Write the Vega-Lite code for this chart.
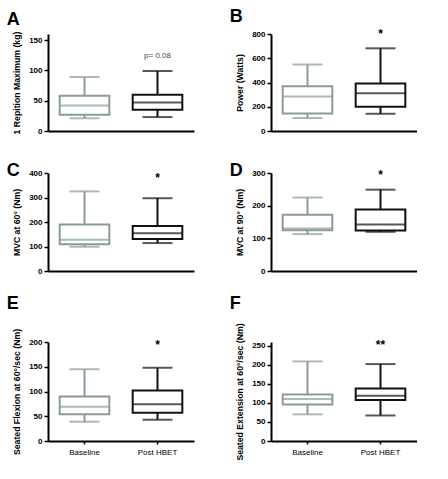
{
  "$schema": "https://vega.github.io/schema/vega-lite/v6.json",
  "padding": {"left": 6, "top": 8, "right": 0, "bottom": 0},
  "background": "white",
  "datasets": {
    "boxes": [
      {"panel": "A", "group": "Baseline", "low": 21, "q1": 27, "median": 42, "q3": 58, "high": 89, "note": null, "noteY": null},
      {"panel": "A", "group": "Post HBET", "low": 23, "q1": 35, "median": 47, "q3": 60, "high": 99, "note": "p= 0.08", "noteY": 124},
      {"panel": "B", "group": "Baseline", "low": 107, "q1": 145, "median": 285, "q3": 370, "high": 548, "note": null, "noteY": null},
      {"panel": "B", "group": "Post HBET", "low": 142, "q1": 200, "median": 312, "q3": 392, "high": 682, "note": "*", "noteY": 765},
      {"panel": "C", "group": "Baseline", "low": 99, "q1": 109, "median": 128, "q3": 190, "high": 325, "note": null, "noteY": null},
      {"panel": "C", "group": "Post HBET", "low": 114, "q1": 131, "median": 154, "q3": 184, "high": 297, "note": "*", "noteY": 362},
      {"panel": "D", "group": "Baseline", "low": 113, "q1": 125, "median": 130, "q3": 172, "high": 225, "note": null, "noteY": null},
      {"panel": "D", "group": "Post HBET", "low": 120, "q1": 124, "median": 142, "q3": 188, "high": 249, "note": "*", "noteY": 281},
      {"panel": "E", "group": "Baseline", "low": 39, "q1": 54, "median": 69, "q3": 90, "high": 145, "note": null, "noteY": null},
      {"panel": "E", "group": "Post HBET", "low": 43, "q1": 57, "median": 74, "q3": 102, "high": 148, "note": "*", "noteY": 186},
      {"panel": "F", "group": "Baseline", "low": 70, "q1": 96, "median": 110, "q3": 122, "high": 209, "note": null, "noteY": null},
      {"panel": "F", "group": "Post HBET", "low": 67, "q1": 108, "median": 119, "q3": 138, "high": 202, "note": "**", "noteY": 241}
    ]
  },
  "config": {
    "font": "Liberation Sans",
    "view": {"stroke": null},
    "title": {"anchor": "start", "frame": "bounds", "fontSize": 18, "fontWeight": "bold", "font": "Liberation Sans", "color": "black", "dx": -6},
    "axis": {"grid": false, "domainColor": "black", "domainWidth": 2, "tickColor": "black", "tickWidth": 1.5, "labelColor": "black", "titleColor": "black", "labelFont": "Liberation Sans", "titleFont": "Liberation Sans"},
    "axisY": {"tickSize": 4, "labelFontSize": 8, "labelFontWeight": "bold", "labelPadding": 2, "titleFontSize": 8.7, "titleFontWeight": "bold", "titlePadding": 7, "labelOverlap": false}
  },
  "spacing": 19,
  "vconcat": [
    {
      "spacing": 27,
      "vconcat": [
        {
          "hconcat": [
            {
              "width": 146, "height": 97,
              "title": {"text": "A", "offset": 2},
              "data": {"name": "boxes"},
              "transform": [{"filter": "datum.panel == 'A'"}],
              "encoding": {"x": {"field": "group", "type": "nominal", "sort": ["Baseline", "Post HBET"], "scale": {"paddingInner": 0, "paddingOuter": 0}, "axis": {"title": null, "labels": false, "ticks": false}}},
              "layer": [
                {"mark": {"type": "rule", "strokeWidth": 2}, "encoding": {"y": {"field": "low", "type": "quantitative", "scale": {"domain": [0, 150]}, "axis": {"values": [0, 50, 100, 150], "title": "1 Repition Maximum (kg)"}}, "y2": {"field": "high"}, "stroke": {"field": "group", "type": "nominal", "scale": {"domain": ["Baseline", "Post HBET"], "range": ["#8a9b98", "#111111"]}, "legend": null}}},
                {"mark": {"type": "bar", "fill": "white", "strokeWidth": 2, "width": {"band": 0.68}}, "encoding": {"y": {"field": "q1", "type": "quantitative", "axis": {"values": [0, 50, 100, 150], "title": "1 Repition Maximum (kg)"}}, "y2": {"field": "q3"}, "stroke": {"field": "group", "type": "nominal", "legend": null}}},
                {"mark": {"type": "tick", "thickness": 2, "size": 50}, "encoding": {"y": {"field": "median", "type": "quantitative", "axis": {"values": [0, 50, 100, 150], "title": "1 Repition Maximum (kg)"}}, "color": {"field": "group", "type": "nominal", "scale": {"domain": ["Baseline", "Post HBET"], "range": ["#8a9b98", "#111111"]}, "legend": null}}},
                {"mark": {"type": "tick", "thickness": 2, "size": 30}, "encoding": {"y": {"field": "low", "type": "quantitative", "axis": {"values": [0, 50, 100, 150], "title": "1 Repition Maximum (kg)"}}, "color": {"field": "group", "type": "nominal", "legend": null}}},
                {"mark": {"type": "tick", "thickness": 2, "size": 30}, "encoding": {"y": {"field": "high", "type": "quantitative", "axis": {"values": [0, 50, 100, 150], "title": "1 Repition Maximum (kg)"}}, "color": {"field": "group", "type": "nominal", "legend": null}}},
                {"transform": [{"filter": "datum.note != null"}], "mark": {"type": "text", "fontSize": 8, "color": "#444444", "baseline": "middle"}, "encoding": {"y": {"field": "noteY", "type": "quantitative", "axis": {"values": [0, 50, 100, 150], "title": "1 Repition Maximum (kg)"}}, "text": {"field": "note"}}}
              ]
            },
            {
              "width": 146, "height": 97,
              "title": {"text": "B", "offset": 2},
              "data": {"name": "boxes"},
              "transform": [{"filter": "datum.panel == 'B'"}],
              "encoding": {"x": {"field": "group", "type": "nominal", "sort": ["Baseline", "Post HBET"], "scale": {"paddingInner": 0, "paddingOuter": 0}, "axis": {"title": null, "labels": false, "ticks": false}}},
              "layer": [
                {"mark": {"type": "rule", "strokeWidth": 2}, "encoding": {"y": {"field": "low", "type": "quantitative", "scale": {"domain": [0, 800]}, "axis": {"values": [0, 200, 400, 600, 800], "title": "Power (Watts)"}}, "y2": {"field": "high"}, "stroke": {"field": "group", "type": "nominal", "scale": {"domain": ["Baseline", "Post HBET"], "range": ["#8a9b98", "#111111"]}, "legend": null}}},
                {"mark": {"type": "bar", "fill": "white", "strokeWidth": 2, "width": {"band": 0.68}}, "encoding": {"y": {"field": "q1", "type": "quantitative", "axis": {"values": [0, 200, 400, 600, 800], "title": "Power (Watts)"}}, "y2": {"field": "q3"}, "stroke": {"field": "group", "type": "nominal", "legend": null}}},
                {"mark": {"type": "tick", "thickness": 2, "size": 50}, "encoding": {"y": {"field": "median", "type": "quantitative", "axis": {"values": [0, 200, 400, 600, 800], "title": "Power (Watts)"}}, "color": {"field": "group", "type": "nominal", "scale": {"domain": ["Baseline", "Post HBET"], "range": ["#8a9b98", "#111111"]}, "legend": null}}},
                {"mark": {"type": "tick", "thickness": 2, "size": 30}, "encoding": {"y": {"field": "low", "type": "quantitative", "axis": {"values": [0, 200, 400, 600, 800], "title": "Power (Watts)"}}, "color": {"field": "group", "type": "nominal", "legend": null}}},
                {"mark": {"type": "tick", "thickness": 2, "size": 30}, "encoding": {"y": {"field": "high", "type": "quantitative", "axis": {"values": [0, 200, 400, 600, 800], "title": "Power (Watts)"}}, "color": {"field": "group", "type": "nominal", "legend": null}}},
                {"transform": [{"filter": "datum.note != null"}], "mark": {"type": "text", "fontSize": 12, "fontWeight": "bold", "color": "black", "baseline": "alphabetic"}, "encoding": {"y": {"field": "noteY", "type": "quantitative", "axis": {"values": [0, 200, 400, 600, 800], "title": "Power (Watts)"}}, "text": {"field": "note"}}}
              ]
            }
          ],
          "spacing": 35
        },
        {
          "hconcat": [
            {
              "width": 146, "height": 98,
              "title": {"text": "C", "offset": -11},
              "data": {"name": "boxes"},
              "transform": [{"filter": "datum.panel == 'C'"}],
              "encoding": {"x": {"field": "group", "type": "nominal", "sort": ["Baseline", "Post HBET"], "scale": {"paddingInner": 0, "paddingOuter": 0}, "axis": {"title": null, "labels": false, "ticks": false}}},
              "layer": [
                {"mark": {"type": "rule", "strokeWidth": 2}, "encoding": {"y": {"field": "low", "type": "quantitative", "scale": {"domain": [0, 400]}, "axis": {"values": [0, 100, 200, 300, 400], "title": "MVC at 60° (Nm)"}}, "y2": {"field": "high"}, "stroke": {"field": "group", "type": "nominal", "scale": {"domain": ["Baseline", "Post HBET"], "range": ["#8a9b98", "#111111"]}, "legend": null}}},
                {"mark": {"type": "bar", "fill": "white", "strokeWidth": 2, "width": {"band": 0.68}}, "encoding": {"y": {"field": "q1", "type": "quantitative", "axis": {"values": [0, 100, 200, 300, 400], "title": "MVC at 60° (Nm)"}}, "y2": {"field": "q3"}, "stroke": {"field": "group", "type": "nominal", "legend": null}}},
                {"mark": {"type": "tick", "thickness": 2, "size": 50}, "encoding": {"y": {"field": "median", "type": "quantitative", "axis": {"values": [0, 100, 200, 300, 400], "title": "MVC at 60° (Nm)"}}, "color": {"field": "group", "type": "nominal", "scale": {"domain": ["Baseline", "Post HBET"], "range": ["#8a9b98", "#111111"]}, "legend": null}}},
                {"mark": {"type": "tick", "thickness": 2, "size": 30}, "encoding": {"y": {"field": "low", "type": "quantitative", "axis": {"values": [0, 100, 200, 300, 400], "title": "MVC at 60° (Nm)"}}, "color": {"field": "group", "type": "nominal", "legend": null}}},
                {"mark": {"type": "tick", "thickness": 2, "size": 30}, "encoding": {"y": {"field": "high", "type": "quantitative", "axis": {"values": [0, 100, 200, 300, 400], "title": "MVC at 60° (Nm)"}}, "color": {"field": "group", "type": "nominal", "legend": null}}},
                {"transform": [{"filter": "datum.note != null"}], "mark": {"type": "text", "fontSize": 12, "fontWeight": "bold", "color": "black", "baseline": "alphabetic"}, "encoding": {"y": {"field": "noteY", "type": "quantitative", "axis": {"values": [0, 100, 200, 300, 400], "title": "MVC at 60° (Nm)"}}, "text": {"field": "note"}}}
              ]
            },
            {
              "width": 146, "height": 98,
              "title": {"text": "D", "offset": -11},
              "data": {"name": "boxes"},
              "transform": [{"filter": "datum.panel == 'D'"}],
              "encoding": {"x": {"field": "group", "type": "nominal", "sort": ["Baseline", "Post HBET"], "scale": {"paddingInner": 0, "paddingOuter": 0}, "axis": {"title": null, "labels": false, "ticks": false}}},
              "layer": [
                {"mark": {"type": "rule", "strokeWidth": 2}, "encoding": {"y": {"field": "low", "type": "quantitative", "scale": {"domain": [0, 300]}, "axis": {"values": [0, 100, 200, 300], "title": "MVC at 90° (Nm)"}}, "y2": {"field": "high"}, "stroke": {"field": "group", "type": "nominal", "scale": {"domain": ["Baseline", "Post HBET"], "range": ["#8a9b98", "#111111"]}, "legend": null}}},
                {"mark": {"type": "bar", "fill": "white", "strokeWidth": 2, "width": {"band": 0.68}}, "encoding": {"y": {"field": "q1", "type": "quantitative", "axis": {"values": [0, 100, 200, 300], "title": "MVC at 90° (Nm)"}}, "y2": {"field": "q3"}, "stroke": {"field": "group", "type": "nominal", "legend": null}}},
                {"mark": {"type": "tick", "thickness": 2, "size": 50}, "encoding": {"y": {"field": "median", "type": "quantitative", "axis": {"values": [0, 100, 200, 300], "title": "MVC at 90° (Nm)"}}, "color": {"field": "group", "type": "nominal", "scale": {"domain": ["Baseline", "Post HBET"], "range": ["#8a9b98", "#111111"]}, "legend": null}}},
                {"mark": {"type": "tick", "thickness": 2, "size": 30}, "encoding": {"y": {"field": "low", "type": "quantitative", "axis": {"values": [0, 100, 200, 300], "title": "MVC at 90° (Nm)"}}, "color": {"field": "group", "type": "nominal", "legend": null}}},
                {"mark": {"type": "tick", "thickness": 2, "size": 30}, "encoding": {"y": {"field": "high", "type": "quantitative", "axis": {"values": [0, 100, 200, 300], "title": "MVC at 90° (Nm)"}}, "color": {"field": "group", "type": "nominal", "legend": null}}},
                {"transform": [{"filter": "datum.note != null"}], "mark": {"type": "text", "fontSize": 12, "fontWeight": "bold", "color": "black", "baseline": "alphabetic"}, "encoding": {"y": {"field": "noteY", "type": "quantitative", "axis": {"values": [0, 100, 200, 300], "title": "MVC at 90° (Nm)"}}, "text": {"field": "note"}}}
              ]
            }
          ],
          "spacing": 35
        }
      ]
    },
    {
      "hconcat": [
        {
          "width": 146, "height": 99,
          "title": {"text": "E", "offset": 15},
          "data": {"name": "boxes"},
          "transform": [{"filter": "datum.panel == 'E'"}],
          "encoding": {"x": {"field": "group", "type": "nominal", "sort": ["Baseline", "Post HBET"], "scale": {"paddingInner": 0, "paddingOuter": 0}, "axis": {"title": null, "labelAngle": 0, "labelFontSize": 8, "labelPadding": 4, "tickSize": 3}}},
          "layer": [
            {"mark": {"type": "rule", "strokeWidth": 2}, "encoding": {"y": {"field": "low", "type": "quantitative", "scale": {"domain": [0, 200]}, "axis": {"values": [0, 50, 100, 150, 200], "title": "Seated Flexion at 60°/sec (Nm)"}}, "y2": {"field": "high"}, "stroke": {"field": "group", "type": "nominal", "scale": {"domain": ["Baseline", "Post HBET"], "range": ["#8a9b98", "#111111"]}, "legend": null}}},
            {"mark": {"type": "bar", "fill": "white", "strokeWidth": 2, "width": {"band": 0.68}}, "encoding": {"y": {"field": "q1", "type": "quantitative", "axis": {"values": [0, 50, 100, 150, 200], "title": "Seated Flexion at 60°/sec (Nm)"}}, "y2": {"field": "q3"}, "stroke": {"field": "group", "type": "nominal", "legend": null}}},
            {"mark": {"type": "tick", "thickness": 2, "size": 50}, "encoding": {"y": {"field": "median", "type": "quantitative", "axis": {"values": [0, 50, 100, 150, 200], "title": "Seated Flexion at 60°/sec (Nm)"}}, "color": {"field": "group", "type": "nominal", "scale": {"domain": ["Baseline", "Post HBET"], "range": ["#8a9b98", "#111111"]}, "legend": null}}},
            {"mark": {"type": "tick", "thickness": 2, "size": 30}, "encoding": {"y": {"field": "low", "type": "quantitative", "axis": {"values": [0, 50, 100, 150, 200], "title": "Seated Flexion at 60°/sec (Nm)"}}, "color": {"field": "group", "type": "nominal", "legend": null}}},
            {"mark": {"type": "tick", "thickness": 2, "size": 30}, "encoding": {"y": {"field": "high", "type": "quantitative", "axis": {"values": [0, 50, 100, 150, 200], "title": "Seated Flexion at 60°/sec (Nm)"}}, "color": {"field": "group", "type": "nominal", "legend": null}}},
            {"transform": [{"filter": "datum.note != null"}], "mark": {"type": "text", "fontSize": 12, "fontWeight": "bold", "color": "black", "baseline": "alphabetic"}, "encoding": {"y": {"field": "noteY", "type": "quantitative", "axis": {"values": [0, 50, 100, 150, 200], "title": "Seated Flexion at 60°/sec (Nm)"}}, "text": {"field": "note"}}}
          ]
        },
        {
          "width": 146, "height": 99,
          "title": {"text": "F", "offset": 10},
          "data": {"name": "boxes"},
          "transform": [{"filter": "datum.panel == 'F'"}],
          "encoding": {"x": {"field": "group", "type": "nominal", "sort": ["Baseline", "Post HBET"], "scale": {"paddingInner": 0, "paddingOuter": 0}, "axis": {"title": null, "labelAngle": 0, "labelFontSize": 8, "labelPadding": 4, "tickSize": 3}}},
          "layer": [
            {"mark": {"type": "rule", "strokeWidth": 2}, "encoding": {"y": {"field": "low", "type": "quantitative", "scale": {"domain": [0, 250]}, "axis": {"values": [0, 50, 100, 150, 200, 250], "title": "Seated Extension at 60°/sec (Nm)"}}, "y2": {"field": "high"}, "stroke": {"field": "group", "type": "nominal", "scale": {"domain": ["Baseline", "Post HBET"], "range": ["#8a9b98", "#111111"]}, "legend": null}}},
            {"mark": {"type": "bar", "fill": "white", "strokeWidth": 2, "width": {"band": 0.68}}, "encoding": {"y": {"field": "q1", "type": "quantitative", "axis": {"values": [0, 50, 100, 150, 200, 250], "title": "Seated Extension at 60°/sec (Nm)"}}, "y2": {"field": "q3"}, "stroke": {"field": "group", "type": "nominal", "legend": null}}},
            {"mark": {"type": "tick", "thickness": 2, "size": 50}, "encoding": {"y": {"field": "median", "type": "quantitative", "axis": {"values": [0, 50, 100, 150, 200, 250], "title": "Seated Extension at 60°/sec (Nm)"}}, "color": {"field": "group", "type": "nominal", "scale": {"domain": ["Baseline", "Post HBET"], "range": ["#8a9b98", "#111111"]}, "legend": null}}},
            {"mark": {"type": "tick", "thickness": 2, "size": 30}, "encoding": {"y": {"field": "low", "type": "quantitative", "axis": {"values": [0, 50, 100, 150, 200, 250], "title": "Seated Extension at 60°/sec (Nm)"}}, "color": {"field": "group", "type": "nominal", "legend": null}}},
            {"mark": {"type": "tick", "thickness": 2, "size": 30}, "encoding": {"y": {"field": "high", "type": "quantitative", "axis": {"values": [0, 50, 100, 150, 200, 250], "title": "Seated Extension at 60°/sec (Nm)"}}, "color": {"field": "group", "type": "nominal", "legend": null}}},
            {"transform": [{"filter": "datum.note != null"}], "mark": {"type": "text", "fontSize": 12, "fontWeight": "bold", "color": "black", "baseline": "alphabetic"}, "encoding": {"y": {"field": "noteY", "type": "quantitative", "axis": {"values": [0, 50, 100, 150, 200, 250], "title": "Seated Extension at 60°/sec (Nm)"}}, "text": {"field": "note"}}}
          ]
        }
      ],
      "spacing": 35
    }
  ]
}
